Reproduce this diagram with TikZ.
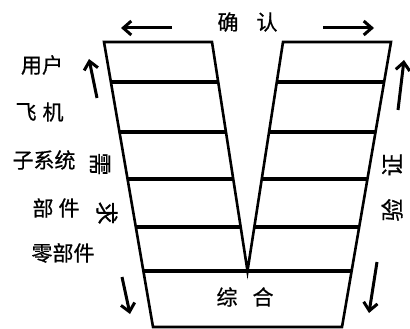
\documentclass[tikz,border=0pt]{standalone}
\usepackage{fontspec}
\newfontfamily\cjk[FakeBold=0.7]{Noto Sans CJK SC}
\usetikzlibrary{arrows.meta}
\begin{document}
\begin{tikzpicture}[x=1pt,y=-1pt,
  outline/.style={line width=2.6pt, line join=miter},
  divider/.style={line width=3.6pt},
  flow/.style={line width=3pt,-{Straight Barb[length=8pt,width=14pt,line width=3pt]}},
  lbl/.style={font=\cjk\fontsize{21}{21}\selectfont, inner sep=0pt},
  vlbl/.style={font=\cjk\fontsize{23}{23}\selectfont, inner sep=0pt}]
\useasboundingbox (0,0) rectangle (410,329);
% outline
\coordinate (LOt) at (104,42);
\coordinate (LIt) at (212,42);
\coordinate (RIt) at (283,42);
\coordinate (ROt) at (391,42);
\coordinate (V) at (247.5,271);
\coordinate (LOm) at (143.2,271);
\coordinate (ROm) at (351.8,271);
\coordinate (LOb) at (153,327);
\coordinate (ROb) at (342,327);
\draw[outline] (LOb) -- (LOt) -- (LIt) -- (V) -- (RIt) -- (ROt) -- (ROb) -- cycle;
\draw[divider] (LOm) -- (ROm);
\foreach \y in {82,132,179,227} {
  \draw[divider] ({104+0.1713*(\y-42)},\y) -- ({212+0.155*(\y-42)},\y);
  \draw[divider] ({495-212-0.155*(\y-42)},\y) -- ({495-104-0.1713*(\y-42)},\y);
}
% arrows
\coordinate (a1s) at (172,28); \coordinate (a1e) at (121,28);
\coordinate (a2s) at (323,28); \coordinate (a2e) at (374,28);
\coordinate (a3s) at (97,98);  \coordinate (a3e) at (89,59);
\coordinate (a4s) at (398,110); \coordinate (a4e) at (404,60);
\coordinate (a5s) at (122,277); \coordinate (a5e) at (130,314);
\coordinate (a6s) at (377,262); \coordinate (a6e) at (369,313);
\draw[flow] (a1s) -- (a1e);
\draw[flow] (a2s) -- (a2e);
\draw[flow] (a3s) -- (a3e);
\draw[flow] (a4s) -- (a4e);
\draw[flow] (a5s) -- (a5e);
\draw[flow] (a6s) -- (a6e);
% labels
\node[lbl] (que) at (228,22) {确};
\node[lbl] (ren) at (267,22) {认};
\node[lbl] (zong) at (227,297) {综};
\node[lbl] (he) at (263,297) {合};
\node[lbl] (yonghu) at (42,65) {用户};
\node[lbl] (fei) at (26,112) {飞};
\node[lbl] (ji) at (53,112) {机};
\node[lbl] (zxt) at (44,160) {子系统};
\node[lbl] (bu) at (43,208) {部};
\node[lbl] (jian) at (69,208) {件};
\node[lbl] (lbj) at (63,253) {零部件};
\node[vlbl, rotate=-90] (xu) at (100,164) {需};
\node[vlbl, rotate=-90] (qiu) at (107,213) {求};
\node[vlbl, rotate=90] (zheng) at (392,165) {证};
\node[vlbl, rotate=90] (yan) at (392,210) {验};
\end{tikzpicture}
\end{document}
